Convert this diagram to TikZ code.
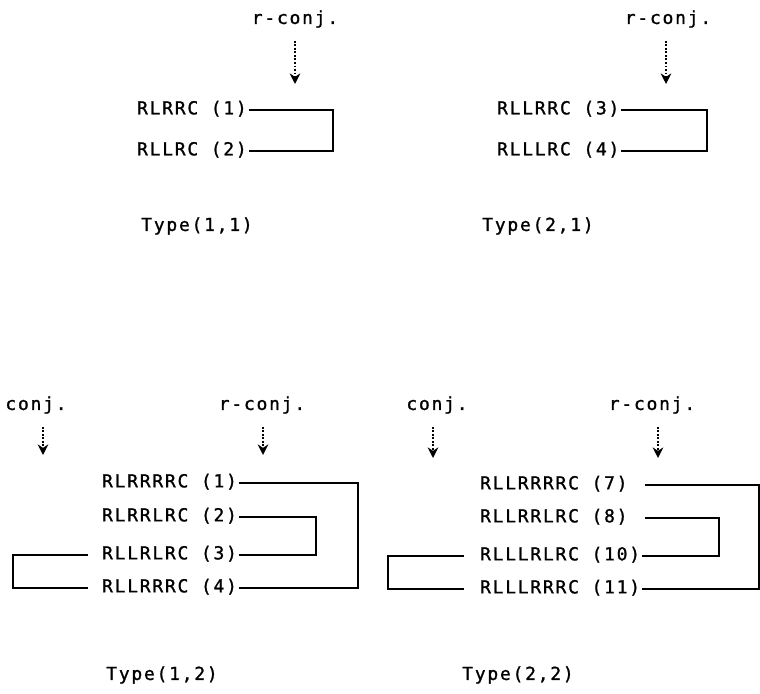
\documentclass[tikz,border=0pt]{standalone}
\usepackage{fontspec}
\usepackage{tikz}
\newfontfamily\printfont[LetterSpace=10,FakeBold=1.2]{DejaVu Sans Mono}
\usetikzlibrary{arrows.meta}
\usetikzlibrary{positioning}

\tikzset{
    row/.style={anchor=west, inner sep=1pt, text height=1.6ex, text depth=0.45ex},
    link/.style={draw=black, line width=0.9pt},
    conj arrow/.style={densely dotted, line width=1pt, -{Stealth[length=6pt,width=6pt]}, shorten <=4pt}
}

\begin{document}
\begin{tikzpicture}[x=0.02cm, y=-0.02cm, every node/.style={font=\printfont\fontsize{10.2}{12}\selectfont}]
        \useasboundingbox (0,0) rectangle (760,693);
        % Type(1,1)
        \coordinate (tip a) at (295,84);
        \coordinate (brk a) at (333,0);
        \node (rconj a) at (295,19) {r-conj.};
        \draw [conj arrow] (rconj a.south -| tip a) -- (tip a);
        \node (a1) [row] at (135,110) {RLRRC (1)};
        \node (a2) [row] at (135,151) {RLLRC (2)};
        \draw [link] (a1.east) -- (a1.east -| brk a) -- (a2.east -| brk a) -- (a2.east);
        \node (type a) at (197,226) {Type(1,1)};
        % Type(2,1)
        \coordinate (tip b) at (666,84);
        \coordinate (brk b) at (707,0);
        \node (rconj b) at (668,19) {r-conj.};
        \draw [conj arrow] (rconj b.south -| tip b) -- (tip b);
        \node (b3) [row] at (495,110) {RLLRRC (3)};
        \node (b4) [row] at (495,151) {RLLLRC (4)};
        \draw [link] (b3.east) -- (b3.east -| brk b) -- (b4.east -| brk b) -- (b4.east);
        \node (type b) at (538,226) {Type(2,1)};
        % Type(1,2)
        \coordinate (tip c) at (43,455);
        \coordinate (tip rc) at (263,455);
        \coordinate (outer c) at (358,0);
        \coordinate (inner c) at (316,0);
        \coordinate (left c) at (13,0);
        \node (conj c) at (36,405) {conj.};
        \node (rconj c) at (262,405) {r-conj.};
        \draw [conj arrow] (conj c.south -| tip c) -- (tip c);
        \draw [conj arrow] (rconj c.south -| tip rc) -- (tip rc);
        \node (c1) [row] at (100,483) {RLRRRRC (1)};
        \node (c2) [row] at (100,517) {RLRRLRC (2)};
        \node (c3) [row] at (100,555) {RLLRLRC (3)};
        \node (c4) [row] at (100,588) {RLLRRRC (4)};
        \draw [link] (c1.east) -- (c1.east -| outer c) -- (c4.east -| outer c) -- (c4.east);
        \draw [link] (c2.east) -- (c2.east -| inner c) -- (c3.east -| inner c) -- (c3.east);
        \draw [link] ([xshift=-7pt]c3.west) -- (c3.west -| left c) -- (c4.west -| left c) -- ([xshift=-7pt]c4.west);
        \node (type c) at (162,675) {Type(1,2)};
        % Type(2,2)
        \coordinate (tip d) at (433,458);
        \coordinate (tip rd) at (658,458);
        \coordinate (outer d) at (759,0);
        \coordinate (inner d) at (719,0);
        \coordinate (left d) at (388,0);
        \node (conj d) at (437,405) {conj.};
        \node (rconj d) at (652,405) {r-conj.};
        \draw [conj arrow] (conj d.south -| tip d) -- (tip d);
        \draw [conj arrow] (rconj d.south -| tip rd) -- (tip rd);
        \node (d7) [row] at (478,485) {RLLRRRRC (7)};
        \node (d8) [row] at (478,518) {RLLRRLRC (8)};
        \node (d10) [row] at (478,556) {RLLLRLRC (10)};
        \node (d11) [row] at (478,589) {RLLLRRRC (11)};
        \draw [link] ([xshift=9pt]d7.east) -- (d7.east -| outer d) -- (d11.east -| outer d) -- (d11.east);
        \draw [link] ([xshift=9pt]d8.east) -- (d8.east -| inner d) -- (d10.east -| inner d) -- (d10.east);
        \draw [link] ([xshift=-8pt]d10.west) -- (d10.west -| left d) -- (d11.west -| left d) -- ([xshift=-8pt]d11.west);
        \node (type d) at (518,675) {Type(2,2)};
\end{tikzpicture}
\end{document}
